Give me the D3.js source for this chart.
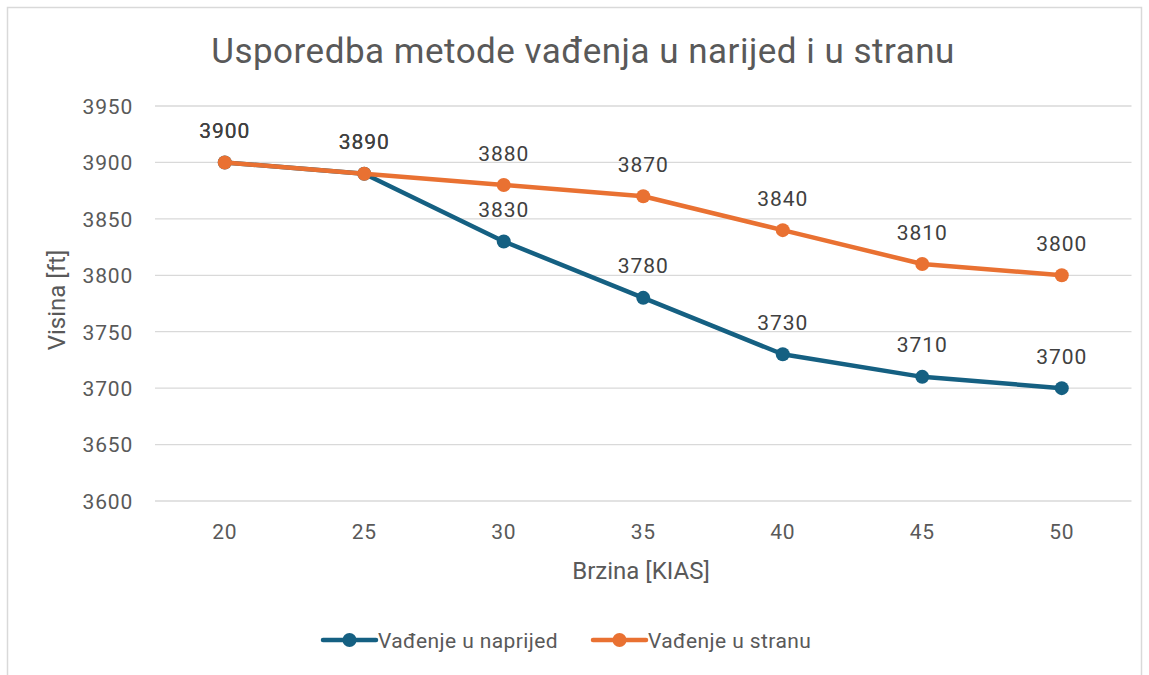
<!DOCTYPE html>
<html><head><meta charset="utf-8">
<script src="https://cdn.jsdelivr.net/npm/d3@7"></script>
<style>body{margin:0;background:#fff}svg{display:block;font-family:Roboto,"Open Sans",sans-serif}</style>
</head><body><svg id="c" width="1149" height="675"></svg>
<script>
const categories = ["20","25","30","35","40","45","50"];
const seriesNames = ["Vađenje u naprijed","Vađenje u stranu"];
const naprijed = [3900,3890,3830,3780,3730,3710,3700];
const stranu = [3900,3890,3880,3870,3840,3810,3800];
const yTicks = [3600,3650,3700,3750,3800,3850,3900,3950];
const colors = ["#156082","#E97132"];
const title = "Usporedba metode vađenja u narijed i u stranu";

const svg = d3.select("#c");
svg.append("rect").attr("x",7.5).attr("y",7.5).attr("width",1134).attr("height",680)
  .attr("fill","#fff").attr("stroke","#d9d9d9").attr("stroke-width",1.5);

const x = d3.scaleBand().domain(categories).range([155,1131.5]);
const y = d3.scaleLinear().domain([3600,3950]).range([501,106]);
const cx = c => x(c) + x.bandwidth()/2;

svg.append("g").selectAll("line").data(yTicks).join("line")
  .attr("x1",155).attr("x2",1131.5).attr("y1",d=>y(d)).attr("y2",d=>y(d))
  .attr("stroke","#d9d9d9").attr("stroke-width",1.3);

const yAxis = svg.append("g").attr("transform","translate(133,0)")
  .call(d3.axisLeft(y).tickValues(yTicks).tickFormat(d3.format("d")).tickSize(0).tickPadding(0));
yAxis.select(".domain").remove();
yAxis.attr("font-size",21).attr("font-family","Roboto,sans-serif");
yAxis.selectAll("text").attr("fill","#595959").attr("x",0).attr("dy","0.35em").attr("letter-spacing",0.8);

const xAxis = svg.append("g").attr("transform","translate(0,531)")
  .call(d3.axisBottom(x).tickSize(0).tickPadding(0));
xAxis.select(".domain").remove();
xAxis.attr("font-size",21).attr("font-family","Roboto,sans-serif");
xAxis.selectAll("text").attr("fill","#595959").attr("y",0).attr("dy","0.36em").attr("letter-spacing",0.8);

svg.append("text").attr("x",583).attr("y",63).attr("text-anchor","middle")
  .attr("font-size",35).attr("letter-spacing",0.5).attr("fill","#595959").text(title);
svg.append("text").attr("x",641).attr("y",579).attr("text-anchor","middle")
  .attr("font-size",24).attr("fill","#595959").text("Brzina [KIAS]");
svg.append("text").attr("transform","translate(65,300) rotate(-90)").attr("text-anchor","middle")
  .attr("font-size",24).attr("fill","#595959").text("Visina [ft]");

const data = [naprijed, stranu];
const line = d3.line().x((d,i)=>cx(categories[i])).y(d=>y(d));
data.forEach((s,k)=>{
  const g = svg.append("g");
  g.append("path").attr("d",line(s)).attr("fill","none").attr("stroke",colors[k])
    .attr("stroke-width",4.5).attr("stroke-linejoin","round").attr("stroke-linecap","round");
  g.selectAll("circle").data(s).join("circle")
    .attr("cx",(d,i)=>cx(categories[i])).attr("cy",d=>y(d)).attr("r",7)
    .attr("fill",colors[k]);
});
data.forEach((s,k)=>{
  svg.append("g").selectAll("text").data(s).join("text")
    .attr("x",(d,i)=>cx(categories[i])).attr("y",d=>y(d)-24.5)
    .attr("text-anchor","middle").attr("font-size",21).attr("letter-spacing",1).attr("fill","#404040").text(d=>d);
});

const legX = [323,593];
seriesNames.forEach((n,k)=>{
  const g = svg.append("g").attr("transform",`translate(${legX[k]},640)`);
  g.append("line").attr("x1",0).attr("x2",53).attr("stroke",colors[k]).attr("stroke-width",4.5).attr("stroke-linecap","round");
  g.append("circle").attr("cx",26.5).attr("r",7).attr("fill",colors[k]);
  g.append("text").attr("x",55).attr("y",8).attr("font-size",21).attr("letter-spacing",0.4).attr("fill","#595959").text(n);
});
</script></body></html>
